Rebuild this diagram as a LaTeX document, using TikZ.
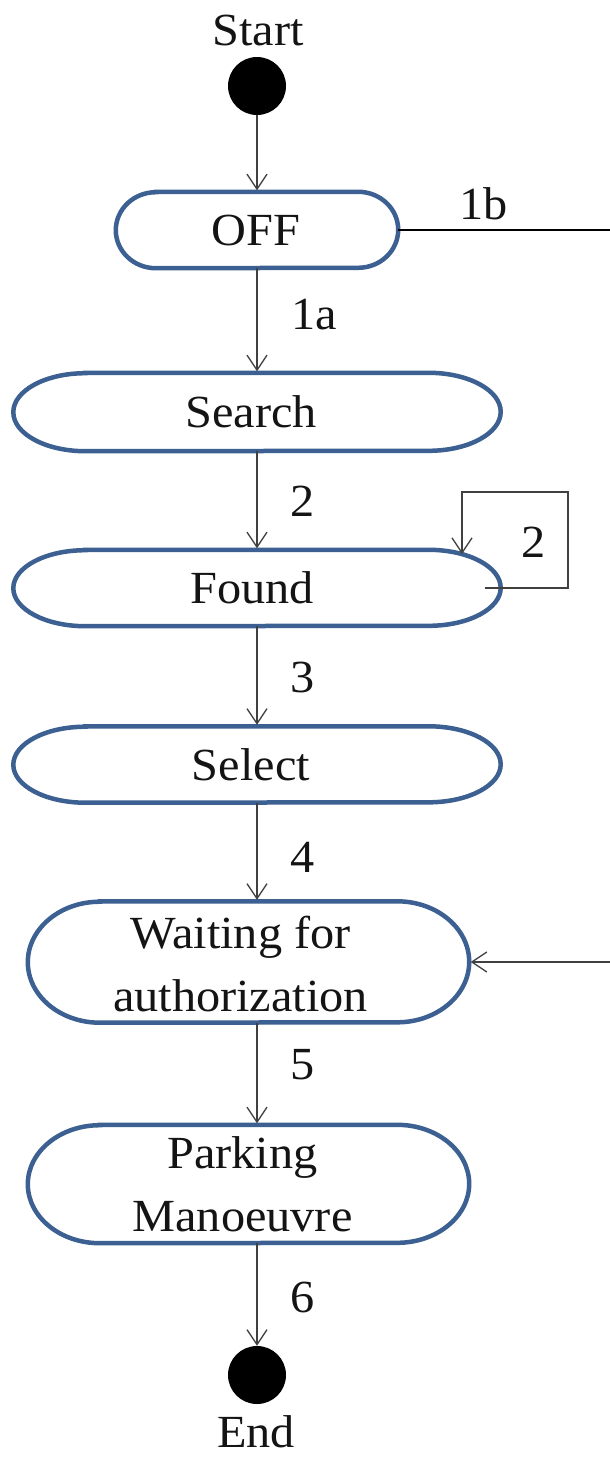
\documentclass[tikz,border=0pt]{standalone}
\usepackage{fontspec}
\setmainfont{Liberation Serif}[FakeStretch=1.05]
\usetikzlibrary{arrows.meta,calc}
\definecolor{boxblue}{RGB}{59,96,145}
\tikzset{
  base/.style={font=\fontsize{46}{63}\selectfont, text=black!92},
  statebox/.style={rectangle, draw=none, inner sep=0pt},
  stext/.style={base, inner sep=0pt, align=center},
  lbl/.style={base, inner sep=0pt, anchor=west},
  conn/.style={draw=black!75, line width=1.3pt, shorten >=1.5pt,
    -{Straight Barb[length=15pt,width=20pt,line width=1.3pt]}},
  plainline/.style={draw=black, line width=2.2pt},
  outline/.style={draw=boxblue, line width=4.5pt},
  dot/.style={circle, fill=black, minimum size=58pt, inner sep=0pt},
}
% #1 node name, #2 end x radius (pt), #3 end y radius (pt, half height)
\newcommand\stadium[3]{%
  \draw[outline]
    ([xshift=#2pt]#1.north west) -- ([xshift=-#2pt]#1.north east)
    arc[start angle=90,end angle=-90,x radius=#2pt,y radius=#3pt]
    -- ([xshift=#2pt]#1.south west)
    arc[start angle=270,end angle=90,x radius=#2pt,y radius=#3pt] -- cycle;}
\begin{document}
\begin{tikzpicture}[x=1pt,y=1pt]
\path[use as bounding box] (0,0) rectangle (610,-1465);
\clip (0,0) rectangle (610,-1465);
\fill[white] (0,0) rectangle (610,-1465);

\node[base, inner sep=0pt] (startlbl) at (258,-30) {Start};
\node[dot] (start) at (257,-86) {};
\node[statebox, minimum width=282pt, minimum height=76pt] (off) at (257,-230) {};
\node[statebox, minimum width=487pt, minimum height=78pt] (search) at (257,-412) {};
\node[statebox, minimum width=487pt, minimum height=76pt] (found) at (257,-588) {};
\node[statebox, minimum width=487pt, minimum height=76pt] (select) at (257,-764.5) {};
\node[statebox, minimum width=441pt, minimum height=121pt] (wait) at (248.5,-962) {};
\node[statebox, minimum width=441pt, minimum height=118pt] (park) at (248.5,-1184) {};
\node[dot] (end) at (257,-1375) {};
\node[base, inner sep=0pt] (endlbl) at (256,-1432) {End};

\stadium{off}{40}{38}
\stadium{search}{72}{39}
\stadium{found}{72}{38}
\stadium{select}{72}{38}
\stadium{wait}{72}{60.5}
\stadium{park}{72}{59}

\node[stext] (toff) at ([xshift=-1pt]off.center) {OFF};
\node[stext] (tsearch) at ([xshift=-6pt]search.center) {Search};
\node[stext] (tfound) at ([xshift=-5pt]found.center) {Found};
\node[stext] (tselect) at ([xshift=-6pt]select.center) {Select};
\node[stext] (twait) at ([xshift=-8pt,yshift=-2pt]wait.center) {Waiting for\\authorization};
\node[stext] (tpark) at ([xshift=-6pt]park.center) {Parking\\Manoeuvre};

\node[lbl] (l1b) at (459,-204) {1b};
\node[lbl] (l1a) at (291,-315) {1a};
\node[lbl] (l2) at (290,-501) {2};
\node[lbl] (lloop) at (521,-542) {2};
\node[lbl] (l3) at (290,-677) {3};
\node[lbl] (l4) at (290,-857) {4};
\node[lbl] (l5) at (290,-1065) {5};
\node[lbl] (l6) at (290,-1297) {6};

\draw[conn] (start) -- (off.north);
\draw[conn] (off.south) -- (search.north);
\draw[conn] (search.south) -- (found.north);
\draw[conn] (found.south) -- (select.north);
\draw[conn] (select.south) -- (select.south |- wait.north);
\draw[conn] (select.south |- wait.south) -- (select.south |- park.north);
\draw[conn, shorten >=0pt] (select.south |- park.south) -- (end);

\coordinate (loopA) at (568,-492);
\coordinate (loopend) at (462,-554);
\draw[conn, shorten >=0pt] ([xshift=-16pt]found.east) -| (loopA) -| (loopend);

\coordinate (r1) at (625,-230);
\coordinate (r2) at (625,-962);
\draw[plainline] (off.east) -- (r1) -- (r2);
\draw[conn] (r2) -- (wait.east);
\end{tikzpicture}
\end{document}
